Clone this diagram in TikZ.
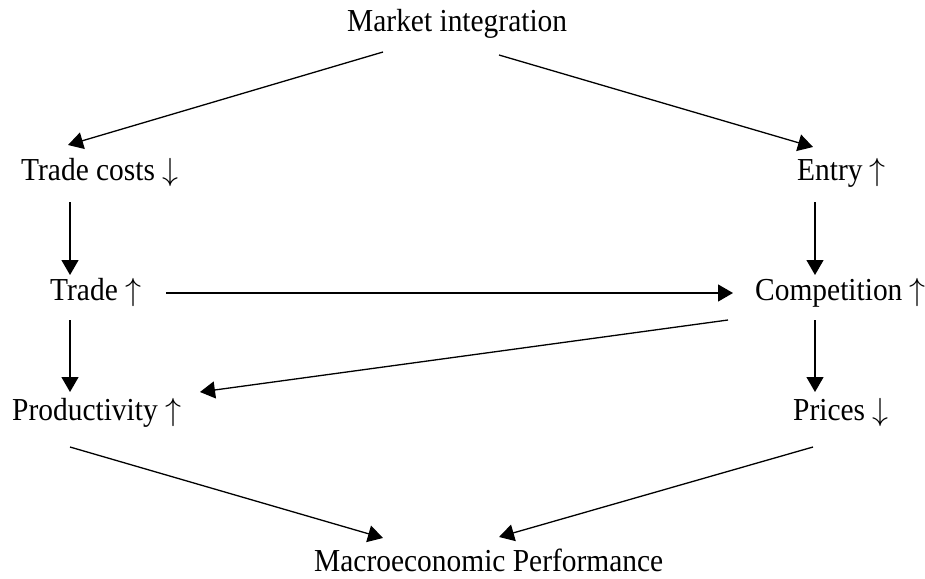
\RequirePackage{fix-cm}
\documentclass[tikz,border=0pt]{standalone}
\usepackage{fontspec}
\setmainfont{Liberation Serif}[FakeStretch=0.92]
\usetikzlibrary{arrows.meta}
\newcommand{\up}{\ensuremath{\uparrow}}
\newcommand{\down}{\ensuremath{\downarrow}}
\begin{document}
\begin{tikzpicture}[x=1pt, y=-1pt,
  lbl/.style={inner sep=0pt, anchor=base west, font=\fontsize{32}{36}\selectfont},
  arr/.style={line width=1.3pt, -{Triangle[length=15pt, width=17pt]}}]
\useasboundingbox (0,0) rectangle (925,578);
% labels
\node [lbl] (mi) at (347,32) {Market integration};
\node [lbl] (tc) at (21,180) {Trade costs \down};
\node [lbl] (entry) at (797,180) {Entry \up};
\node [lbl] (trade) at (50,300) {Trade \up};
\node [lbl] (comp) at (755,300) {Competition \up};
\node [lbl] (prod) at (12,420) {Productivity \up};
\node [lbl] (prices) at (793,420) {Prices \down};
\node [lbl] (mp) at (314,571) {Macroeconomic Performance};
% arrow ends
\coordinate (mi-l) at (383,52);
\coordinate (mi-r) at (499,55);
\coordinate (tc-in) at (68,145);
\coordinate (tc-out) at (70,202);
\coordinate (entry-in) at (813,147);
\coordinate (entry-out) at (815,202);
\coordinate (trade-in) at (70,275);
\coordinate (trade-out) at (70,320);
\coordinate (trade-r) at (166,293);
\coordinate (comp-in) at (815,275);
\coordinate (comp-l) at (733,293);
\coordinate (comp-out) at (815,320);
\coordinate (comp-sw) at (728,320);
\coordinate (prod-in) at (70,392);
\coordinate (prod-ne) at (200,392);
\coordinate (prod-out) at (70,447);
\coordinate (prices-in) at (815,392);
\coordinate (prices-out) at (813,447);
\coordinate (mp-l) at (383,538);
\coordinate (mp-r) at (499,537);
% connectors
\draw [arr] (mi-l) -- (tc-in);
\draw [arr] (mi-r) -- (entry-in);
\draw [arr] (tc-out) -- (trade-in);
\draw [arr] (entry-out) -- (comp-in);
\draw [arr] (trade-r) -- (comp-l);
\draw [arr] (trade-out) -- (prod-in);
\draw [arr] (comp-out) -- (prices-in);
\draw [arr] (comp-sw) -- (prod-ne);
\draw [arr] (prod-out) -- (mp-l);
\draw [arr] (prices-out) -- (mp-r);
\end{tikzpicture}
\end{document}
